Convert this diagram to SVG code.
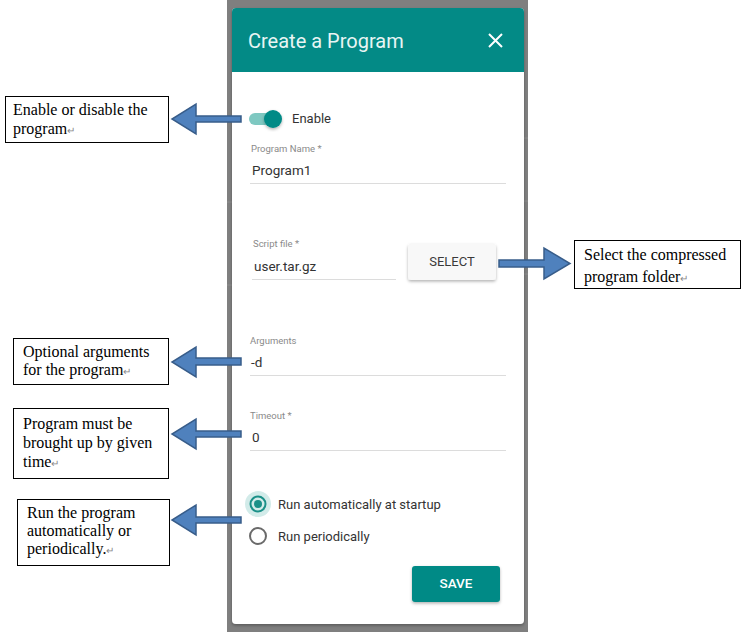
<svg xmlns="http://www.w3.org/2000/svg" width="747" height="637" viewBox="0 0 747 637">
<defs>
<style>
.ui{font-family:Roboto,"Liberation Sans",sans-serif}
.lbl{font-size:9.5px;fill:#8a8a8a}
.val{font-size:13.5px;fill:#333}
.line{stroke:#dcdcdc;stroke-width:1}
.box{fill:#fff;stroke:#000;stroke-width:1}
.note{font-family:"Liberation Serif","Times New Roman",serif;font-size:16px;fill:#000}
.ret{font-size:10px;fill:#888}
.arr{fill:#4f81bd;stroke:#385d8a;stroke-width:1.5;stroke-linejoin:miter}
</style>
<filter id="sh" x="-20%" y="-20%" width="140%" height="140%">
<feDropShadow dx="0" dy="1.5" stdDeviation="1.5" flood-color="#000" flood-opacity="0.3"/>
</filter>
</defs>
<rect width="747" height="637" fill="#fff"/>
<g id="screen">
<rect x="227" y="0" width="301" height="632" fill="#7f7f7f"/>
<line x1="227" y1="202" x2="232" y2="202" stroke="#8f8f8f"/>
<line x1="227" y1="285" x2="232" y2="285" stroke="#8f8f8f"/>
<line x1="524" y1="138" x2="528" y2="138" stroke="#8f8f8f"/>
<line x1="524" y1="201" x2="528" y2="201" stroke="#8f8f8f"/>
<line x1="524" y1="274" x2="528" y2="274" stroke="#8f8f8f"/>
<rect x="232" y="8" width="292" height="616" rx="4" fill="#fff" filter="url(#sh)"/>
<path d="M236 8 H520 A4 4 0 0 1 524 12 V72 H232 V12 A4 4 0 0 1 236 8 Z" fill="#038a86"/>
<text class="ui" x="248" y="48" font-size="20" fill="#e8f5f4">Create a Program</text>
<path d="M489 34 L502 47 M502 34 L489 47" stroke="#fff" stroke-width="2"/>
</g>
<g id="enable-toggle">
<rect x="249" y="113" width="31" height="12" rx="6" fill="#7ec8c1"/>
<circle cx="273" cy="119" r="9" fill="#038a86" filter="url(#sh)"/>
<text class="ui" x="292" y="123" font-size="13" fill="#333">Enable</text>
</g>
<g id="program-name">
<text class="ui lbl" x="251" y="152">Program Name *</text>
<text class="ui val" x="252" y="175">Program1</text>
<line class="line" x1="250" y1="183.5" x2="506" y2="183.5"/>
</g>
<g id="script-file">
<text class="ui lbl" x="253" y="247">Script file *</text>
<text class="ui val" x="254" y="271">user.tar.gz</text>
<line class="line" x1="252" y1="279.5" x2="396" y2="279.5"/>
</g>
<g id="select-button">
<rect x="408" y="244" width="88" height="36" rx="3" fill="#f8f8f8" filter="url(#sh)"/>
<text class="ui" x="452" y="266" font-size="13" fill="#3a3a3a" text-anchor="middle">SELECT</text>
</g>
<g id="arguments">
<text class="ui lbl" x="250" y="344">Arguments</text>
<text class="ui val" x="251" y="367">-d</text>
<line class="line" x1="250" y1="375.5" x2="506" y2="375.5"/>
</g>
<g id="timeout">
<text class="ui lbl" x="250" y="419">Timeout *</text>
<text class="ui val" x="252" y="442">0</text>
<line class="line" x1="250" y1="450.5" x2="506" y2="450.5"/>
</g>
<g id="radio-startup">
<circle cx="258" cy="504" r="13" fill="#d2ebe9"/>
<circle cx="258" cy="504" r="7.5" fill="none" stroke="#1a9088" stroke-width="2"/>
<circle cx="258" cy="504" r="4" fill="#1a9088"/>
<text class="ui" x="278" y="509" font-size="13" fill="#333">Run automatically at startup</text>
</g>
<g id="radio-periodic">
<circle cx="258" cy="536" r="8" fill="none" stroke="#6a6a6a" stroke-width="2"/>
<text class="ui" x="278" y="541" font-size="13" fill="#333">Run periodically</text>
</g>
<g id="save-button">
<rect x="412" y="566" width="88" height="36" rx="3" fill="#038a86" filter="url(#sh)"/>
<text class="ui" x="456" y="588" font-size="13.5" font-weight="500" fill="#fff" text-anchor="middle">SAVE</text>
</g>
<g id="note-enable">
<rect class="box" x="5.5" y="96.5" width="163" height="46"/>
<text class="note" x="13" y="115">Enable or disable the</text>
<text class="note" x="13" y="134">program<tspan class="ret">↵</tspan></text>
</g>
<g id="note-select">
<rect class="box" x="574.5" y="240.5" width="166" height="48"/>
<text class="note" x="584" y="260">Select the compressed</text>
<text class="note" x="584" y="282">program folder<tspan class="ret">↵</tspan></text>
</g>
<g id="note-arguments">
<rect class="box" x="13.5" y="338.5" width="155" height="46"/>
<text class="note" x="23" y="357">Optional arguments</text>
<text class="note" x="23" y="375">for the program<tspan class="ret">↵</tspan></text>
</g>
<g id="note-timeout">
<rect class="box" x="13.5" y="408.5" width="155" height="70"/>
<text class="note" x="23" y="429">Program must be</text>
<text class="note" x="23" y="448">brought up by given</text>
<text class="note" x="23" y="467">time<tspan class="ret">↵</tspan></text>
</g>
<g id="note-run">
<rect class="box" x="17.5" y="499.5" width="152" height="66"/>
<text class="note" x="27" y="518">Run the program</text>
<text class="note" x="27" y="536">automatically or</text>
<text class="note" x="27" y="554">periodically.<tspan class="ret">↵</tspan></text>
</g>
<g id="connectors">
<path class="arr" d="M241 116 H196 V104 L172 119 L196 134 V122 H241 Z"/>
<path class="arr" d="M499 260 H544 V248 L570 263.5 L544 279 V267 H499 Z"/>
<path class="arr" d="M241 358 H196 V347 L172 362 L196 377 V365 H241 Z"/>
<path class="arr" d="M241 431 H196 V419 L172 434 L196 449 V437 H241 Z"/>
<path class="arr" d="M241 517 H196 V505 L172 520 L196 535 V523 H241 Z"/>
</g>
</svg>
